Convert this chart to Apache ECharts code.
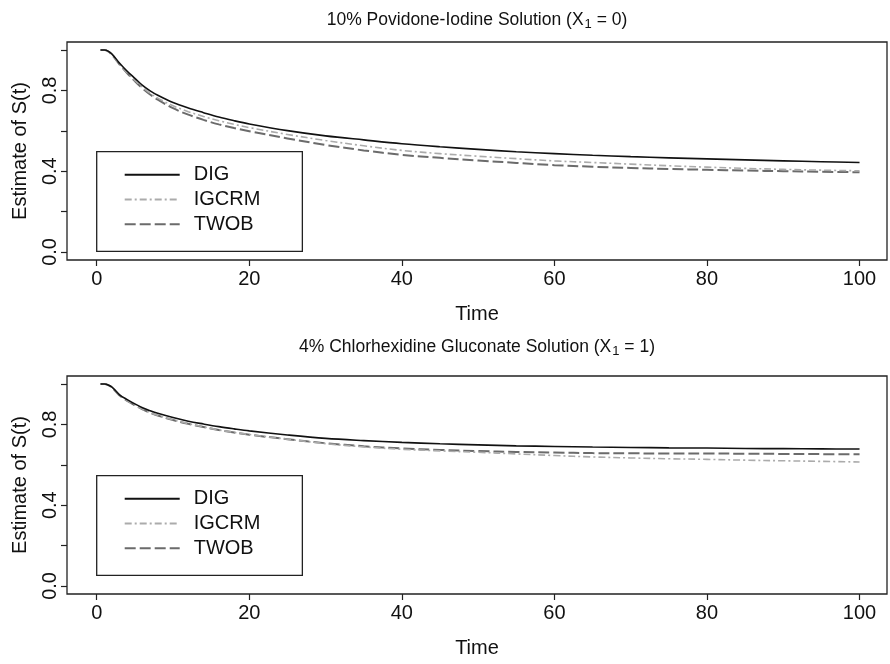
<!DOCTYPE html>
<html>
<head>
<meta charset="utf-8">
<script src="https://cdn.jsdelivr.net/npm/echarts@6/dist/echarts.min.js"></script>
<style>html,body{margin:0;padding:0;background:#fff}#c{width:890px;height:664px}</style>
</head>
<body>
<div id="c"></div>
<script>
// ---- data ----
const time = [0.5, 1, 1.5, 2, 3, 4, 5, 6, 7, 8, 10, 12, 14, 16, 18, 20, 25, 30, 35, 40, 45, 50, 55, 60, 65, 70, 75, 80, 85, 90, 95, 100];

// Panel 1: 10% Povidone-Iodine (X1 = 0)
const digP = [1.0, 1.0, 0.995, 0.98, 0.935, 0.895, 0.86, 0.825, 0.798, 0.776, 0.74, 0.713, 0.69, 0.668, 0.65, 0.634, 0.601, 0.575, 0.555, 0.536, 0.521, 0.508, 0.496, 0.487, 0.479, 0.472, 0.466, 0.461, 0.456, 0.451, 0.447, 0.443];
const igcrmP = [1.0, 1.0, 0.993, 0.977, 0.93, 0.888, 0.85, 0.815, 0.786, 0.762, 0.724, 0.695, 0.671, 0.65, 0.632, 0.616, 0.582, 0.552, 0.526, 0.503, 0.487, 0.474, 0.462, 0.451, 0.443, 0.435, 0.427, 0.42, 0.414, 0.409, 0.405, 0.402];
const twobP = [1.0, 1.0, 0.993, 0.976, 0.928, 0.885, 0.846, 0.81, 0.78, 0.754, 0.712, 0.68, 0.654, 0.632, 0.614, 0.598, 0.562, 0.53, 0.503, 0.481, 0.466, 0.453, 0.441, 0.43, 0.422, 0.416, 0.411, 0.407, 0.403, 0.4, 0.397, 0.395];

// Panel 2: 4% Chlorhexidine Gluconate (X1 = 1)
const digC = [1.0, 1.0, 0.996, 0.985, 0.947, 0.923, 0.902, 0.883, 0.868, 0.855, 0.834, 0.816, 0.802, 0.789, 0.778, 0.768, 0.748, 0.731, 0.72, 0.711, 0.704, 0.699, 0.694, 0.691, 0.688, 0.686, 0.684, 0.683, 0.681, 0.68, 0.679, 0.678];
const igcrmC = [1.0, 1.0, 0.995, 0.984, 0.944, 0.918, 0.896, 0.876, 0.859, 0.845, 0.823, 0.804, 0.788, 0.773, 0.761, 0.75, 0.727, 0.705, 0.689, 0.677, 0.669, 0.662, 0.654, 0.646, 0.639, 0.634, 0.63, 0.627, 0.623, 0.62, 0.617, 0.614];
const twobC = [1.0, 1.0, 0.995, 0.983, 0.943, 0.917, 0.895, 0.875, 0.858, 0.844, 0.822, 0.803, 0.787, 0.772, 0.76, 0.749, 0.727, 0.707, 0.692, 0.681, 0.674, 0.668, 0.664, 0.661, 0.658, 0.657, 0.656, 0.656, 0.655, 0.654, 0.653, 0.652];

const seriesNames = ['DIG', 'IGCRM', 'TWOB'];
const xTicks = [0, 20, 40, 60, 80, 100];
const yTicks = [0, 0.2, 0.4, 0.6, 0.8, 1.0];
const yLabels = [0, 0.4, 0.8];
const titles = [
  ['10% Povidone-Iodine Solution (X', '1', ' = 0)'],
  ['4% Chlorhexidine Gluconate Solution (X', '1', ' = 1)']
];

// ---- chart ----
const FONT = '"Liberation Sans", Arial, Helvetica, sans-serif';
const INK = '#111';
const styles = {
  DIG: {color: '#111', width: 1.6, type: 'solid'},
  IGCRM: {color: '#ababab', width: 1.6, type: [7, 3, 2, 3]},
  TWOB: {color: '#6b6b6b', width: 2, type: [11, 4]}
};
const pair = v => time.map((t, i) => [t, v[i]]);

const grids = [
  {left: 67, right: 3, top: 42, height: 218},
  {left: 67, right: 3, top: 376, height: 218}
];

function xAxisFor(i, labelMargin, nameGap) {
  return {
    type: 'value', gridIndex: i, min: -3.9, max: 103.6,
    axisLine: {show: false, onZero: false},
    splitLine: {show: false},
    axisTick: {show: true, length: 6, customValues: xTicks, lineStyle: {color: '#222', width: 1.2}},
    axisLabel: {customValues: xTicks, fontSize: 20, color: INK, fontFamily: FONT, margin: labelMargin},
    name: 'Time', nameLocation: 'middle', nameGap: nameGap,
    nameTextStyle: {fontSize: 20, color: INK, fontFamily: FONT}
  };
}
function yAxisFor(i) {
  return {
    type: 'value', gridIndex: i, min: -0.04, max: 1.04,
    axisLine: {show: false, onZero: false},
    splitLine: {show: false},
    axisTick: {show: true, length: 6, customValues: yTicks, lineStyle: {color: '#222', width: 1.2}},
    axisLabel: {customValues: yLabels, rotate: 90, fontSize: 20, color: INK, fontFamily: FONT, margin: 7,
      formatter: v => v.toFixed(1)},
    name: 'Estimate of S(t)', nameLocation: 'middle', nameGap: 37, nameRotate: 90,
    nameTextStyle: {fontSize: 20, color: INK, fontFamily: FONT}
  };
}

function titleFor(parts, top) {
  return {
    text: '{n|' + parts[0] + '}{s|' + parts[1] + '}{n|' + parts[2] + '}',
    left: 477, top: top, textAlign: 'center', padding: 0,
    textStyle: {
      fontWeight: 'normal',
      rich: {
        n: {fontSize: 17.5, fontWeight: 'normal', fontFamily: FONT, color: INK, verticalAlign: 'top', lineHeight: 24},
        s: {fontSize: 13, fontWeight: 'normal', fontFamily: FONT, color: INK, verticalAlign: 'top', lineHeight: 24, padding: [7, 0, 0, 1]}
      }
    }
  };
}

function legendFor(top) {
  return {
    data: seriesNames, orient: 'vertical', left: 96.7, top: top,
    padding: [13, 42, 17, 27], borderColor: '#222', borderWidth: 1.3,
    itemWidth: 55, itemHeight: 20, itemGap: 4.8, selectedMode: false,
    itemStyle: {opacity: 0},
    textStyle: {fontSize: 20, color: INK, fontFamily: FONT, padding: [0, 0, 0, 9]}
  };
}

const series = [];
[[digP, igcrmP, twobP], [digC, igcrmC, twobC]].forEach((set, gi) => {
  set.forEach((vals, k) => {
    const st = styles[seriesNames[k]];
    series.push({
      name: seriesNames[k], type: 'line', xAxisIndex: gi, yAxisIndex: gi,
      data: pair(vals), symbol: 'none', smooth: 0.35, z: 3 - k,
      lineStyle: {color: st.color, width: st.width, type: st.type},
      itemStyle: {color: st.color}
    });
  });
});

const chart = echarts.init(document.getElementById('c'), null, {renderer: 'canvas'});
chart.setOption({
  backgroundColor: '#fff',
  animation: false,
  title: [titleFor(titles[0], 11), titleFor(titles[1], 338)],
  legend: [legendFor(151.7), legendFor(475.7)],
  grid: grids.map(g => Object.assign({show: true, borderColor: '#222', borderWidth: 1.3, backgroundColor: 'transparent'}, g)),
  xAxis: [xAxisFor(0, 9, 44), xAxisFor(1, 9, 44)],
  yAxis: [yAxisFor(0), yAxisFor(1)],
  series: series
});
</script>
</body>
</html>
